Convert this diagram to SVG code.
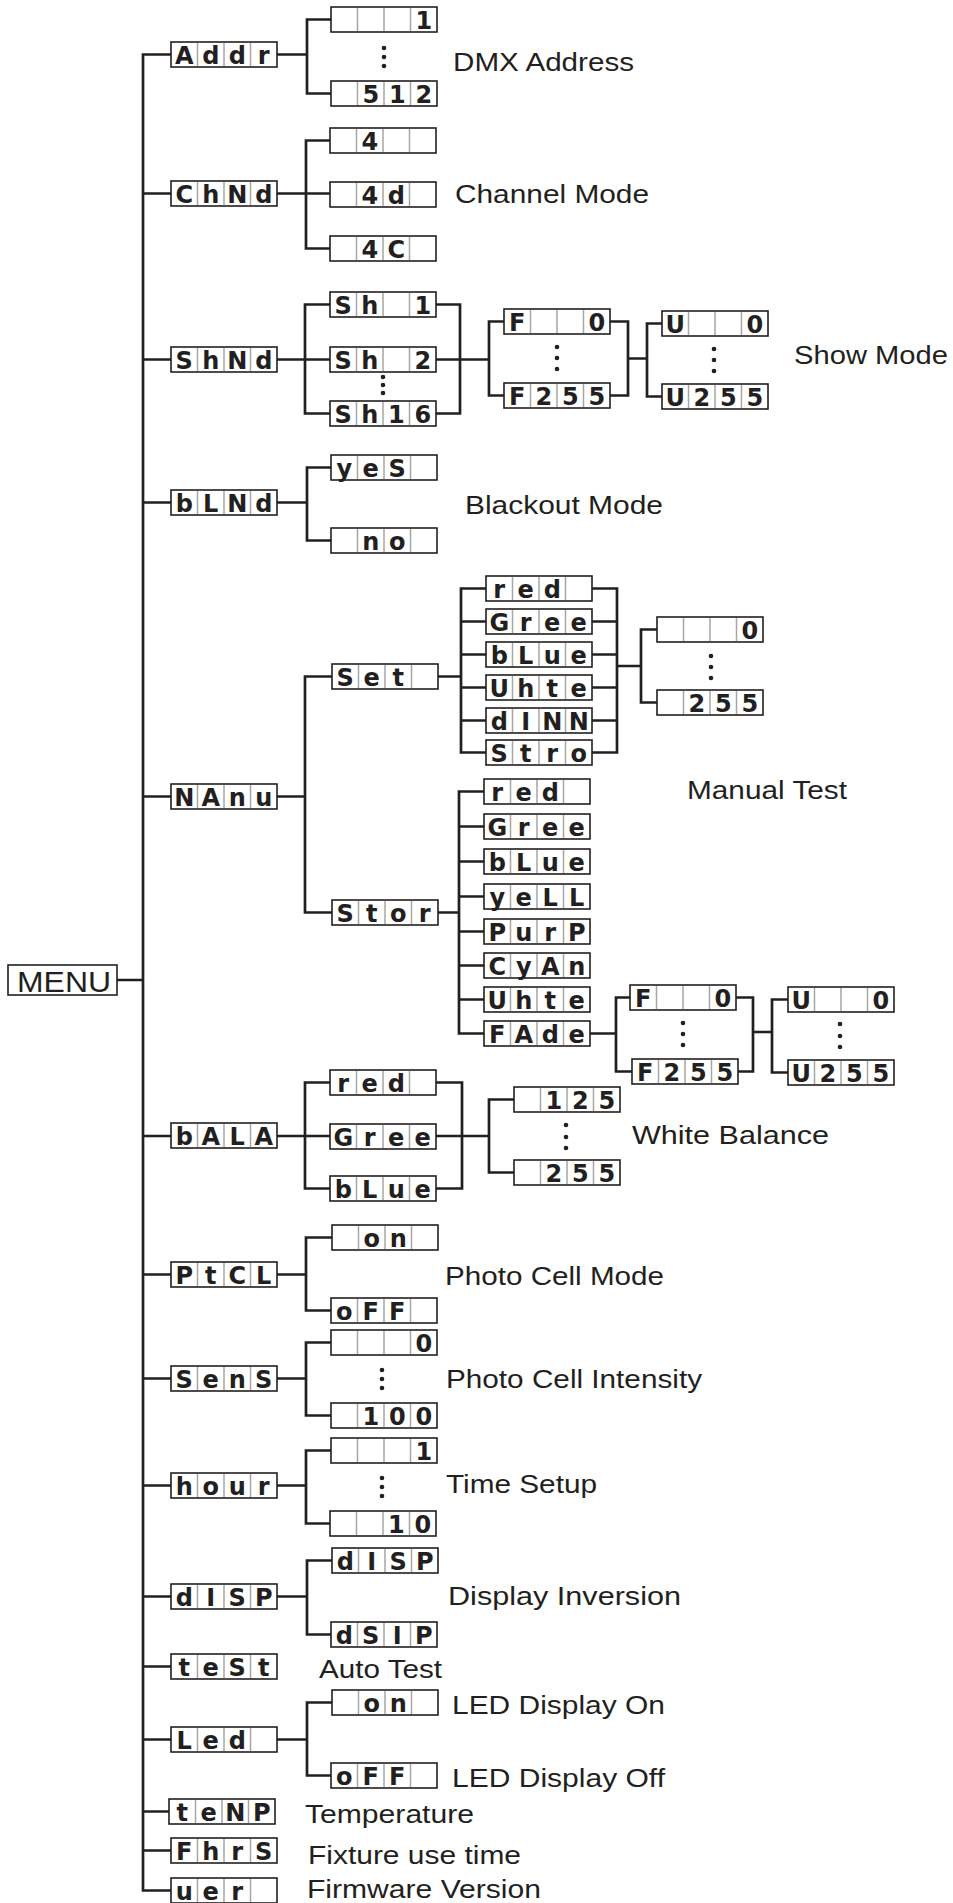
<svg xmlns="http://www.w3.org/2000/svg" xmlns:xlink="http://www.w3.org/1999/xlink" width="953" height="1903" viewBox="0 0 953 1903">
<style>
.c{fill:none;stroke:#231f20;stroke-width:2.7}
.s{font-family:"DejaVu Sans",sans-serif;font-weight:bold;font-size:24px;fill:#231f20;text-anchor:middle}
.l{font-family:"Liberation Sans",Arial,sans-serif;font-size:26px;fill:#231f20}
.dot{fill:#231f20}
</style>
<defs>
<g id="bx">
<rect x="0" y="0" width="106" height="25" fill="#fff" stroke="#231f20" stroke-width="1.6"/>
<path d="M26.5,0.9V24.1M53,0.9V24.1M79.5,0.9V24.1" stroke="#a6a6a6" stroke-width="1.5"/>
</g>
</defs>
<rect width="953" height="1903" fill="#fff"/>
<g id="connectors">
<path class="c" d="M171,54.5H143V1890.5H171M143,193.5H171M143,359.5H171M143,502.5H171M143,796.5H171M143,1136H171M143,1274.5H171M143,1378.5H171M143,1485.5H171M143,1596.5H171M143,1666.5H171M143,1739.5H171M143,1811.5H169M143,1850.5H171M117,980H143"/>
<path class="c" d="M277,54.5H307M331,19.5H307V93.5H331"/>
<path class="c" d="M277,193.5H330M330,140.5H306V248.5H330"/>
<path class="c" d="M277,359.5H330M330,304.5H305V413.5H330M436,304.5H460V413.5H436M436,359.5H489M504,321.5H489V395.5H504M610,321.5H628V395.5H610M628,358.5H647M662,323.5H647V396.5H662"/>
<path class="c" d="M277,502.5H307M331,467.5H307V540.5H331"/>
<path class="c" d="M277,796.5H305M332,676.5H305V912.5H332"/>
<path class="c" d="M438,676.5H461M486,588.5H461V752.5H486M461,621.5H486M461,654.5H486M461,687.5H486M461,720.5H486M592,588.5H617V752.5H592M592,621.5H617M592,654.5H617M592,687.5H617M592,720.5H617M617,666H641M657,629.5H641V702.5H657"/>
<path class="c" d="M438,912.5H459M484,791.5H459V1033.5H484M459,826.5H484M459,861.5H484M459,896.5H484M459,931.5H484M459,965.5H484M459,999.5H484M590,1033.5H616M630,997.5H616V1071.5H632M736,997.5H753V1071.5H738M753,1032H772M788,999.5H772V1072.5H788"/>
<path class="c" d="M277,1136H330M330,1082.5H305V1188.5H330M436,1082.5H462V1188.5H436M436,1136H489M514,1099.5H489V1172.5H514"/>
<path class="c" d="M277,1274.5H306M332,1237.5H306V1310.5H331"/>
<path class="c" d="M277,1378.5H306M331,1342.5H306V1415.5H331"/>
<path class="c" d="M277,1485.5H306M331,1450.5H306V1523.5H330"/>
<path class="c" d="M277,1596.5H307M332,1560.5H307V1634.5H331"/>
<path class="c" d="M277,1739.5H307M332,1702.5H307V1775.5H331"/>
</g>
<g id="ellipses">
<circle class="dot" cx="384" cy="48" r="2.3"/><circle class="dot" cx="384" cy="57" r="2.3"/><circle class="dot" cx="384" cy="66" r="2.3"/>
<circle class="dot" cx="383" cy="377" r="2.3"/><circle class="dot" cx="383" cy="385" r="2.3"/><circle class="dot" cx="383" cy="393" r="2.3"/>
<circle class="dot" cx="557" cy="347" r="2.3"/><circle class="dot" cx="557" cy="358" r="2.3"/><circle class="dot" cx="557" cy="369" r="2.3"/>
<circle class="dot" cx="714" cy="349" r="2.3"/><circle class="dot" cx="714" cy="360" r="2.3"/><circle class="dot" cx="714" cy="371" r="2.3"/>
<circle class="dot" cx="711" cy="656" r="2.3"/><circle class="dot" cx="711" cy="667" r="2.3"/><circle class="dot" cx="711" cy="678" r="2.3"/>
<circle class="dot" cx="683" cy="1023" r="2.3"/><circle class="dot" cx="683" cy="1034" r="2.3"/><circle class="dot" cx="683" cy="1045" r="2.3"/>
<circle class="dot" cx="840" cy="1024" r="2.3"/><circle class="dot" cx="840" cy="1036" r="2.3"/><circle class="dot" cx="840" cy="1047" r="2.3"/>
<circle class="dot" cx="566" cy="1125" r="2.3"/><circle class="dot" cx="566" cy="1137" r="2.3"/><circle class="dot" cx="566" cy="1148" r="2.3"/>
<circle class="dot" cx="382" cy="1370" r="2.3"/><circle class="dot" cx="382" cy="1379" r="2.3"/><circle class="dot" cx="382" cy="1388" r="2.3"/>
<circle class="dot" cx="382" cy="1478" r="2.3"/><circle class="dot" cx="382" cy="1487" r="2.3"/><circle class="dot" cx="382" cy="1496" r="2.3"/>
</g>
<g id="menu"><rect x="8" y="965" width="109" height="30" fill="#fff" stroke="#231f20" stroke-width="1.6"/><text x="17" y="992" font-family="Liberation Sans, Arial, sans-serif" font-size="30" fill="#231f20" textLength="94" lengthAdjust="spacingAndGlyphs">MENU</text></g>
<g id="addr" transform="translate(171,42)"><use href="#bx"/><text class="s" x="13.25 39.75 66.25 92.75" y="21.5">Addr</text></g>
<g id="addr-1" transform="translate(331,7)"><use href="#bx"/><text class="s" x="92.75" y="21.5">1</text></g>
<g id="addr-512" transform="translate(331,81)"><use href="#bx"/><text class="s" x="39.75 66.25 92.75" y="21.5">512</text></g>
<g id="chnd" transform="translate(171,181)"><use href="#bx"/><text class="s" x="13.25 39.75 66.25 92.75" y="21.5">ChNd</text></g>
<g id="chnd-4" transform="translate(330,128)"><use href="#bx"/><text class="s" x="39.75" y="21.5">4</text></g>
<g id="chnd-4d" transform="translate(330,182)"><use href="#bx"/><text class="s" x="39.75 66.25" y="21.5">4d</text></g>
<g id="chnd-4c" transform="translate(330,236)"><use href="#bx"/><text class="s" x="39.75 66.25" y="21.5">4C</text></g>
<g id="shnd" transform="translate(171,347)"><use href="#bx"/><text class="s" x="13.25 39.75 66.25 92.75" y="21.5">ShNd</text></g>
<g id="sh1" transform="translate(330,292)"><use href="#bx"/><text class="s" x="13.25 39.75 92.75" y="21.5">Sh1</text></g>
<g id="sh2" transform="translate(330,347)"><use href="#bx"/><text class="s" x="13.25 39.75 92.75" y="21.5">Sh2</text></g>
<g id="sh16" transform="translate(330,401)"><use href="#bx"/><text class="s" x="13.25 39.75 66.25 92.75" y="21.5">Sh16</text></g>
<g id="sh-f0" transform="translate(504,309)"><use href="#bx"/><text class="s" x="13.25 92.75" y="21.5">F0</text></g>
<g id="sh-f255" transform="translate(504,383)"><use href="#bx"/><text class="s" x="13.25 39.75 66.25 92.75" y="21.5">F255</text></g>
<g id="sh-u0" transform="translate(662,311)"><use href="#bx"/><text class="s" x="13.25 92.75" y="21.5">U0</text></g>
<g id="sh-u255" transform="translate(662,384)"><use href="#bx"/><text class="s" x="13.25 39.75 66.25 92.75" y="21.5">U255</text></g>
<g id="blnd" transform="translate(171,490)"><use href="#bx"/><text class="s" x="13.25 39.75 66.25 92.75" y="21.5">bLNd</text></g>
<g id="blnd-yes" transform="translate(331,455)"><use href="#bx"/><text class="s" x="13.25 39.75 66.25" y="21.5">yeS</text></g>
<g id="blnd-no" transform="translate(331,528)"><use href="#bx"/><text class="s" x="39.75 66.25" y="21.5">no</text></g>
<g id="nanu" transform="translate(171,784)"><use href="#bx"/><text class="s" x="13.25 39.75 66.25 92.75" y="21.5">NAnu</text></g>
<g id="set" transform="translate(332,664)"><use href="#bx"/><text class="s" x="13.25 39.75 66.25" y="21.5">Set</text></g>
<g id="set-red" transform="translate(486,576)"><use href="#bx"/><text class="s" x="13.25 39.75 66.25" y="21.5">red</text></g>
<g id="set-gree" transform="translate(486,609)"><use href="#bx"/><text class="s" x="13.25 39.75 66.25 92.75" y="21.5">Gree</text></g>
<g id="set-blue" transform="translate(486,642)"><use href="#bx"/><text class="s" x="13.25 39.75 66.25 92.75" y="21.5">bLue</text></g>
<g id="set-uhte" transform="translate(486,675)"><use href="#bx"/><text class="s" x="13.25 39.75 66.25 92.75" y="21.5">Uhte</text></g>
<g id="set-dinn" transform="translate(486,708)"><use href="#bx"/><text class="s" x="13.25 39.75 66.25 92.75" y="21.5">dINN</text></g>
<g id="set-stro" transform="translate(486,740)"><use href="#bx"/><text class="s" x="13.25 39.75 66.25 92.75" y="21.5">Stro</text></g>
<g id="set-0" transform="translate(657,617)"><use href="#bx"/><text class="s" x="92.75" y="21.5">0</text></g>
<g id="set-255" transform="translate(657,690)"><use href="#bx"/><text class="s" x="39.75 66.25 92.75" y="21.5">255</text></g>
<g id="stor" transform="translate(332,900)"><use href="#bx"/><text class="s" x="13.25 39.75 66.25 92.75" y="21.5">Stor</text></g>
<g id="stor-red" transform="translate(484,779)"><use href="#bx"/><text class="s" x="13.25 39.75 66.25" y="21.5">red</text></g>
<g id="stor-gree" transform="translate(484,814)"><use href="#bx"/><text class="s" x="13.25 39.75 66.25 92.75" y="21.5">Gree</text></g>
<g id="stor-blue" transform="translate(484,849)"><use href="#bx"/><text class="s" x="13.25 39.75 66.25 92.75" y="21.5">bLue</text></g>
<g id="stor-yell" transform="translate(484,884)"><use href="#bx"/><text class="s" x="13.25 39.75 66.25 92.75" y="21.5">yeLL</text></g>
<g id="stor-purp" transform="translate(484,919)"><use href="#bx"/><text class="s" x="13.25 39.75 66.25 92.75" y="21.5">PurP</text></g>
<g id="stor-cyan" transform="translate(484,953)"><use href="#bx"/><text class="s" x="13.25 39.75 66.25 92.75" y="21.5">CyAn</text></g>
<g id="stor-uhte" transform="translate(484,987)"><use href="#bx"/><text class="s" x="13.25 39.75 66.25 92.75" y="21.5">Uhte</text></g>
<g id="stor-fade" transform="translate(484,1021)"><use href="#bx"/><text class="s" x="13.25 39.75 66.25 92.75" y="21.5">FAde</text></g>
<g id="fade-f0" transform="translate(630,985)"><use href="#bx"/><text class="s" x="13.25 92.75" y="21.5">F0</text></g>
<g id="fade-f255" transform="translate(632,1059)"><use href="#bx"/><text class="s" x="13.25 39.75 66.25 92.75" y="21.5">F255</text></g>
<g id="fade-u0" transform="translate(788,987)"><use href="#bx"/><text class="s" x="13.25 92.75" y="21.5">U0</text></g>
<g id="fade-u255" transform="translate(788,1060)"><use href="#bx"/><text class="s" x="13.25 39.75 66.25 92.75" y="21.5">U255</text></g>
<g id="bala" transform="translate(171,1123)"><use href="#bx"/><text class="s" x="13.25 39.75 66.25 92.75" y="21.5">bALA</text></g>
<g id="bala-red" transform="translate(330,1070)"><use href="#bx"/><text class="s" x="13.25 39.75 66.25" y="21.5">red</text></g>
<g id="bala-gree" transform="translate(330,1124)"><use href="#bx"/><text class="s" x="13.25 39.75 66.25 92.75" y="21.5">Gree</text></g>
<g id="bala-blue" transform="translate(330,1176)"><use href="#bx"/><text class="s" x="13.25 39.75 66.25 92.75" y="21.5">bLue</text></g>
<g id="bala-125" transform="translate(514,1087)"><use href="#bx"/><text class="s" x="39.75 66.25 92.75" y="21.5">125</text></g>
<g id="bala-255" transform="translate(514,1160)"><use href="#bx"/><text class="s" x="39.75 66.25 92.75" y="21.5">255</text></g>
<g id="ptcl" transform="translate(171,1262)"><use href="#bx"/><text class="s" x="13.25 39.75 66.25 92.75" y="21.5">PtCL</text></g>
<g id="ptcl-on" transform="translate(332,1225)"><use href="#bx"/><text class="s" x="39.75 66.25" y="21.5">on</text></g>
<g id="ptcl-off" transform="translate(331,1298)"><use href="#bx"/><text class="s" x="13.25 39.75 66.25" y="21.5">oFF</text></g>
<g id="sens" transform="translate(171,1366)"><use href="#bx"/><text class="s" x="13.25 39.75 66.25 92.75" y="21.5">SenS</text></g>
<g id="sens-0" transform="translate(331,1330)"><use href="#bx"/><text class="s" x="92.75" y="21.5">0</text></g>
<g id="sens-100" transform="translate(331,1403)"><use href="#bx"/><text class="s" x="39.75 66.25 92.75" y="21.5">100</text></g>
<g id="hour" transform="translate(171,1473)"><use href="#bx"/><text class="s" x="13.25 39.75 66.25 92.75" y="21.5">hour</text></g>
<g id="hour-1" transform="translate(331,1438)"><use href="#bx"/><text class="s" x="92.75" y="21.5">1</text></g>
<g id="hour-10" transform="translate(330,1511)"><use href="#bx"/><text class="s" x="66.25 92.75" y="21.5">10</text></g>
<g id="disp" transform="translate(171,1584)"><use href="#bx"/><text class="s" x="13.25 39.75 66.25 92.75" y="21.5">dISP</text></g>
<g id="disp-disp" transform="translate(332,1548)"><use href="#bx"/><text class="s" x="13.25 39.75 66.25 92.75" y="21.5">dISP</text></g>
<g id="disp-dsip" transform="translate(331,1622)"><use href="#bx"/><text class="s" x="13.25 39.75 66.25 92.75" y="21.5">dSIP</text></g>
<g id="test" transform="translate(171,1654)"><use href="#bx"/><text class="s" x="13.25 39.75 66.25 92.75" y="21.5">teSt</text></g>
<g id="led" transform="translate(171,1727)"><use href="#bx"/><text class="s" x="13.25 39.75 66.25" y="21.5">Led</text></g>
<g id="led-on" transform="translate(332,1690)"><use href="#bx"/><text class="s" x="39.75 66.25" y="21.5">on</text></g>
<g id="led-off" transform="translate(331,1763)"><use href="#bx"/><text class="s" x="13.25 39.75 66.25" y="21.5">oFF</text></g>
<g id="temp" transform="translate(169,1799)"><use href="#bx"/><text class="s" x="13.25 39.75 66.25 92.75" y="21.5">teNP</text></g>
<g id="fhrs" transform="translate(171,1838)"><use href="#bx"/><text class="s" x="13.25 39.75 66.25 92.75" y="21.5">FhrS</text></g>
<g id="ver" transform="translate(171,1878)"><use href="#bx"/><text class="s" x="13.25 39.75 66.25" y="21.5">uer</text></g>
<g id="labels">
<text class="l" x="453" y="71" textLength="181" lengthAdjust="spacingAndGlyphs">DMX Address</text>
<text class="l" x="455" y="203" textLength="194" lengthAdjust="spacingAndGlyphs">Channel Mode</text>
<text class="l" x="794" y="364" textLength="154" lengthAdjust="spacingAndGlyphs">Show Mode</text>
<text class="l" x="465" y="514" textLength="198" lengthAdjust="spacingAndGlyphs">Blackout Mode</text>
<text class="l" x="687" y="799" textLength="160" lengthAdjust="spacingAndGlyphs">Manual Test</text>
<text class="l" x="632" y="1144" textLength="197" lengthAdjust="spacingAndGlyphs">White Balance</text>
<text class="l" x="445" y="1285" textLength="219" lengthAdjust="spacingAndGlyphs">Photo Cell Mode</text>
<text class="l" x="446" y="1388" textLength="256" lengthAdjust="spacingAndGlyphs">Photo Cell Intensity</text>
<text class="l" x="446" y="1493" textLength="151" lengthAdjust="spacingAndGlyphs">Time Setup</text>
<text class="l" x="448" y="1605" textLength="233" lengthAdjust="spacingAndGlyphs">Display Inversion</text>
<text class="l" x="319" y="1678" textLength="123" lengthAdjust="spacingAndGlyphs">Auto Test</text>
<text class="l" x="452" y="1714" textLength="213" lengthAdjust="spacingAndGlyphs">LED Display On</text>
<text class="l" x="452" y="1787" textLength="213" lengthAdjust="spacingAndGlyphs">LED Display Off</text>
<text class="l" x="305" y="1823" textLength="169" lengthAdjust="spacingAndGlyphs">Temperature</text>
<text class="l" x="308" y="1864" textLength="213" lengthAdjust="spacingAndGlyphs">Fixture use time</text>
<text class="l" x="307" y="1898" textLength="234" lengthAdjust="spacingAndGlyphs">Firmware Version</text>
</g>
</svg>
